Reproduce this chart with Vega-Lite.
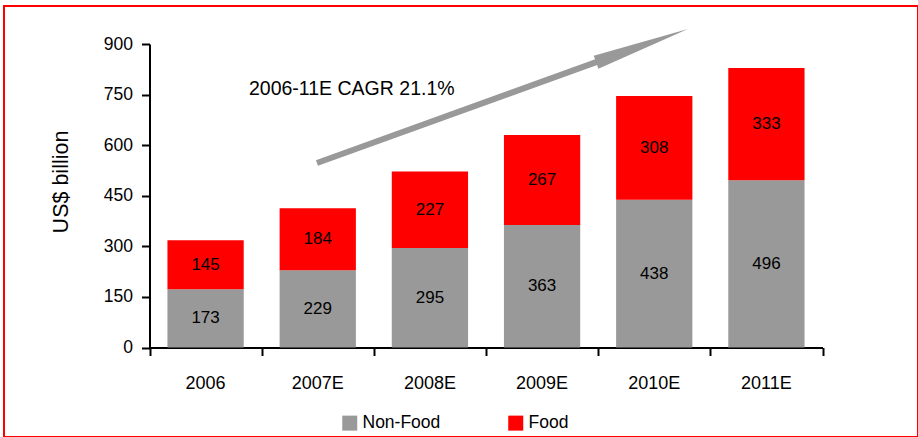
{
  "$schema": "https://vega.github.io/schema/vega-lite/v6.json",
  "width": 914,
  "height": 431,
  "autosize": {"type": "none"},
  "padding": {"left": 4, "top": 6, "right": 0, "bottom": 0},
  "background": "white",
  "config": {
    "view": {"stroke": "#ff0000", "strokeWidth": 2},
    "axis": {"grid": false}
  },
  "datasets": {
    "bars": [
      {"year": "2006", "type": "Non-Food", "value": 173},
      {"year": "2006", "type": "Food", "value": 145},
      {"year": "2007E", "type": "Non-Food", "value": 229},
      {"year": "2007E", "type": "Food", "value": 184},
      {"year": "2008E", "type": "Non-Food", "value": 295},
      {"year": "2008E", "type": "Food", "value": 227},
      {"year": "2009E", "type": "Non-Food", "value": 363},
      {"year": "2009E", "type": "Food", "value": 267},
      {"year": "2010E", "type": "Non-Food", "value": 438},
      {"year": "2010E", "type": "Food", "value": 308},
      {"year": "2011E", "type": "Non-Food", "value": 496},
      {"year": "2011E", "type": "Food", "value": 333}
    ],
    "arrow": [
      {"ax": 1.493, "ay": 547.1},
      {"ax": 4.05, "ay": 854.2}
    ],
    "head": [
      {"ax": 4.391, "ay": 895.2}
    ],
    "note": [
      {"ax": 0.887, "ay": 749, "label": "2006-11E CAGR 21.1%"}
    ]
  },
  "layer": [
    {
      "data": {"name": "bars"},
      "transform": [
        {"stack": "value", "groupby": ["year"], "as": ["y0", "y1"], "sort": [{"field": "type", "order": "descending"}]},
        {"calculate": "(datum.y0 + datum.y1) / 2", "as": "mid"}
      ],
      "encoding": {
        "x": {
          "field": "year",
          "type": "nominal",
          "scale": {"range": [145.5, 818.5], "paddingInner": 0.32, "paddingOuter": 0.16},
          "axis": {
            "orient": "bottom",
            "offset": -89.5,
            "title": null,
            "ticks": false,
            "tickSize": 0,
            "labelAngle": 0,
            "labelPadding": 27,
            "labelFont": "Liberation Sans, Arial, sans-serif",
            "labelFontSize": 18,
            "labelColor": "#000000",
            "domainColor": "#000000",
            "domainWidth": 2
          }
        }
      },
      "layer": [
        {
          "mark": {"type": "bar"},
          "encoding": {
            "y": {
              "field": "y0",
              "type": "quantitative",
              "scale": {"domain": [0, 900], "range": [341.5, 38], "nice": false, "zero": false},
              "axis": {
                "title": "US$ billion",
                "offset": -145.5,
                "values": [0, 150, 300, 450, 600, 750, 900],
                "tickSize": 8,
                "tickWidth": 2,
                "tickColor": "#000000",
                "domainColor": "#000000",
                "domainWidth": 2,
                "labelFont": "Liberation Sans, Arial, sans-serif",
                "labelFontSize": 17.5,
                "labelColor": "#000000",
                "labelPadding": 9,
                "titleFont": "Liberation Sans, Arial, sans-serif",
                "titleFontSize": 21.5,
                "titleFontWeight": "normal",
                "titleColor": "#000000",
                "titlePadding": 31,
                "titleY": 175.5
              }
            },
            "y2": {"field": "y1"},
            "color": {
              "field": "type",
              "type": "nominal",
              "scale": {"domain": ["Non-Food", "Food"], "range": ["#999999", "#ff0000"]},
              "legend": {
                "orient": "none",
                "legendX": 337,
                "legendY": 408,
                "direction": "horizontal",
                "columns": 2,
                "columnPadding": 66,
                "title": null,
                "padding": 0,
                "symbolType": "square",
                "symbolSize": 225,
                "symbolStrokeWidth": 0,
                "symbolOpacity": 1,
                "labelOffset": 4,
                "labelFont": "Liberation Sans, Arial, sans-serif",
                "labelFontSize": 17.5,
                "labelColor": "#000000"
              }
            }
          }
        },
        {
          "mark": {
            "type": "text",
            "font": "Liberation Sans, Arial, sans-serif",
            "fontSize": 17,
            "color": "#000000",
            "baseline": "middle",
            "align": "center"
          },
          "encoding": {
            "y": {"field": "mid", "type": "quantitative", "title": "US$ billion"},
            "text": {"field": "value", "type": "quantitative"}
          }
        }
      ]
    },
    {
      "encoding": {
        "x": {
          "field": "ax",
          "type": "quantitative",
          "scale": {"domain": [0, 6], "range": [145.5, 818.5], "nice": false, "zero": false},
          "axis": {
            "orient": "bottom",
            "offset": -89.5,
            "title": null,
            "values": [0, 1, 2, 3, 4, 5, 6],
            "labels": false,
            "domain": false,
            "ticks": true,
            "tickSize": 8,
            "tickWidth": 2,
            "tickColor": "#000000",
            "grid": false
          }
        },
        "y": {"field": "ay", "type": "quantitative", "title": "US$ billion"}
      },
      "layer": [
        {
          "data": {"name": "arrow"},
          "mark": {"type": "line", "color": "#999999", "strokeWidth": 6, "strokeCap": "butt", "clip": false}
        },
        {
          "data": {"name": "head"},
          "mark": {
            "type": "point",
            "shape": "M 1 0 L -1 -0.14 L -1 0.14 Z",
            "size": 9545,
            "angle": 340.15,
            "filled": true,
            "color": "#999999",
            "opacity": 1,
            "strokeWidth": 0,
            "clip": false
          }
        },
        {
          "data": {"name": "note"},
          "mark": {
            "type": "text",
            "font": "Liberation Sans, Arial, sans-serif",
            "fontSize": 19.5,
            "color": "#000000",
            "align": "left",
            "baseline": "alphabetic"
          },
          "encoding": {
            "text": {"field": "label", "type": "nominal"}
          }
        }
      ]
    }
  ],
  "resolve": {"scale": {"x": "independent"}, "axis": {"x": "independent"}}
}
